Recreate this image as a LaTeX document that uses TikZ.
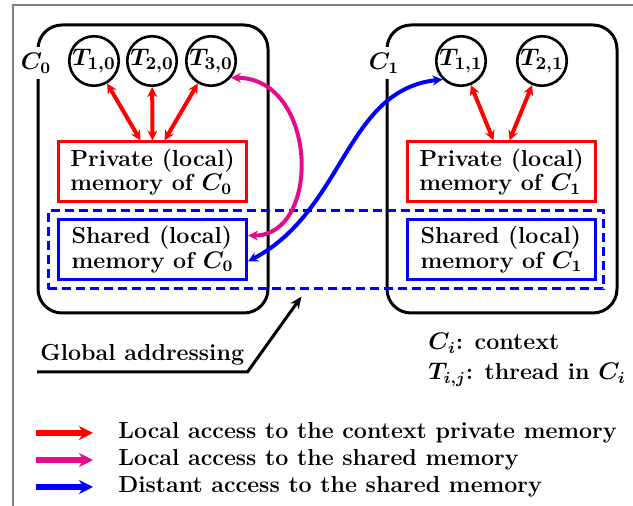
\documentclass[tikz,border=0pt]{standalone}
\usetikzlibrary{arrows.meta,positioning}
\definecolor{accpink}{RGB}{230,10,140}
\begin{document}
\boldmath
\begin{tikzpicture}[
    x=0.5pt, y=-0.5pt,
    font=\fontsize{11.6}{11}\selectfont\bfseries,
    context/.style={draw, line width=1.5pt, rounded corners=12pt, minimum width=115pt, minimum height=144pt},
    ctxlabel/.style={fill=white, inner sep=1.5pt, minimum height=16pt},
    thread/.style={circle, draw, line width=1.3pt, inner sep=0pt, minimum size=24pt,
                   font=\fontsize{12.8}{12}\selectfont},
    privmem/.style={draw=red, line width=1.5pt, align=left, minimum width=94pt, minimum height=30pt},
    sharedmem/.style={draw=blue, line width=1.5pt, align=left, minimum width=94pt, minimum height=30pt},
    privarrow/.style={{Stealth[length=5pt,width=5pt]}-{Stealth[length=5pt,width=5pt]}, red, line width=2pt},
    localarrow/.style={{Stealth[length=5pt,width=5pt]}-{Stealth[length=5pt,width=5pt]}, accpink, line width=2pt},
    distarrow/.style={{Stealth[length=5pt,width=5pt]}-{Stealth[length=5pt,width=5pt]}, blue, line width=2pt},
    legarrow/.style={-{Stealth[length=7pt,width=7pt]}, line width=3pt}
]
    \useasboundingbox (0,0) rectangle (633,506);
    % frame
    \draw[gray, line width=0.8pt] (13,506) -- (13,5) -- (633,5);

    % Contexts
    \node[context] (ctx0) at (153,169) {};
    \node[context] (ctx1) at (502,169) {};
    \node[ctxlabel] (c0) at (36,63) {$C_0$};
    \node[ctxlabel] (c1) at (384,63) {$C_1$};

    % Threads
    \node[thread] (t10) at (94,61) {$T_{1,0}$};
    \node[thread] (t20) at (152,61) {$T_{2,0}$};
    \node[thread] (t30) at (211,61) {$T_{3,0}$};
    \node[thread] (t11) at (461,61) {$T_{1,1}$};
    \node[thread] (t21) at (542,61) {$T_{2,1}$};

    % Memories
    \node[privmem] (priv0) at (152.5,172) {Private (local)\\memory of $C_0$};
    \node[sharedmem] (shared0) at (152.5,249.5) {Shared (local)\\memory of $C_0$};
    \node[privmem] (priv1) at (501.5,172) {Private (local)\\memory of $C_1$};
    \node[sharedmem] (shared1) at (501.5,249.5) {Shared (local)\\memory of $C_1$};

    % Global addressing
    \node[draw=blue, line width=1.5pt, dash pattern=on 4.5pt off 2.5pt,
          minimum width=277.5pt, minimum height=39pt] (global) at (325.5,250) {};

    % Arrows
    \draw[privarrow] (t10) -- ([xshift=-6pt]priv0.north);
    \draw[privarrow] (t20) -- (priv0.north);
    \draw[privarrow] (t30) -- ([xshift=6pt]priv0.north);
    \draw[privarrow] (t11) -- ([xshift=-4pt]priv1.north);
    \draw[privarrow] (t21) -- ([xshift=4pt]priv1.north);
    \draw[localarrow] ([yshift=7pt]shared0.east) .. controls (322,236) and (318,78) .. (t30.-40);
    \draw[distarrow] ([yshift=-6pt]shared0.east) .. controls (345,210) and (345,90) .. (t11.-135);

    \node[anchor=south west, inner xsep=1.5pt, inner ysep=3pt] (ga) at (37,372) {Global addressing};
    \draw[-{Stealth[length=6pt,width=5pt]}, line width=1.5pt]
        (ga.south west) -- (ga.south east) -- ([xshift=-12pt,yshift=-3pt]global.south);

    % Legend
    \node[anchor=west, inner sep=0pt] (keyc) at (428,343) {$C_i$: context};
    \node[anchor=west, inner sep=0pt] (keyt) at (428,375) {$T_{i,j}$: thread in $C_i$};

    \node[anchor=west, inner sep=0pt] (leg1) at (118,433) {Local access to the context private memory};
    \node[anchor=west, inner sep=0pt] (leg2) at (118,460) {Local access to the shared memory};
    \node[anchor=west, inner sep=0pt] (leg3) at (118,487) {Distant access to the shared memory};
    \coordinate (s1) at (36,433);
    \coordinate (s2) at (36,460);
    \coordinate (s3) at (36,487);
    \draw[legarrow, red] (s1) -- ([xshift=-12.5pt]s1 -| leg1.west);
    \draw[legarrow, accpink] (s2) -- ([xshift=-12.5pt]s2 -| leg2.west);
    \draw[legarrow, blue] (s3) -- ([xshift=-12.5pt]s3 -| leg3.west);
\end{tikzpicture}
\end{document}
